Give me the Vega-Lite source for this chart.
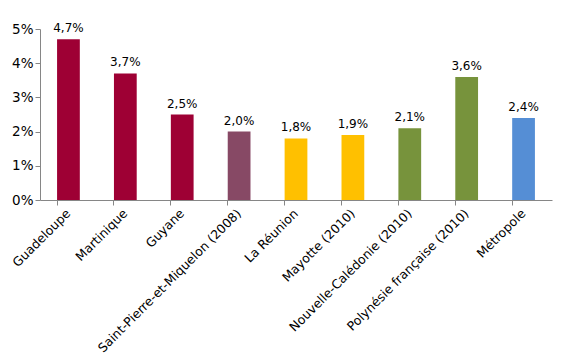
{
  "$schema": "https://vega.github.io/schema/vega-lite/v6.json",
  "width": 512,
  "height": 171,
  "autosize": "none",
  "padding": {"left": 40, "top": 29, "right": 15, "bottom": 160},
  "config": {
    "locale": {"number": {"decimal": ",", "thousands": " ", "grouping": [3], "currency": ["", " €"]}},
    "view": {"stroke": null},
    "font": "DejaVu Sans"
  },
  "data": {
    "values": [
      {"territoire": "Guadeloupe", "taux": 0.047, "groupe": "Antilles-Guyane"},
      {"territoire": "Martinique", "taux": 0.037, "groupe": "Antilles-Guyane"},
      {"territoire": "Guyane", "taux": 0.025, "groupe": "Antilles-Guyane"},
      {"territoire": "Saint-Pierre-et-Miquelon (2008)", "taux": 0.020, "groupe": "SPM"},
      {"territoire": "La Réunion", "taux": 0.018, "groupe": "Océan Indien"},
      {"territoire": "Mayotte (2010)", "taux": 0.019, "groupe": "Océan Indien"},
      {"territoire": "Nouvelle-Calédonie (2010)", "taux": 0.021, "groupe": "Pacifique"},
      {"territoire": "Polynésie française (2010)", "taux": 0.036, "groupe": "Pacifique"},
      {"territoire": "Métropole", "taux": 0.024, "groupe": "Métropole"}
    ]
  },
  "encoding": {
    "x": {
      "field": "territoire",
      "type": "nominal",
      "sort": null,
      "title": null,
      "scale": {"paddingInner": 0.6, "paddingOuter": 0.3},
      "axis": {
        "labelAngle": -45,
        "labelAlign": "right",
        "labelBaseline": "middle",
        "labelFontSize": 12.5,
        "labelColor": "#000000",
        "labelPadding": 6,
        "labelLimit": 300,
        "bandPosition": 0,
        "tickSize": 5,
        "tickColor": "#868686",
        "domainColor": "#868686"
      }
    },
    "y": {
      "field": "taux",
      "type": "quantitative",
      "title": null,
      "scale": {"domain": [0, 0.05], "nice": false},
      "axis": {
        "values": [0, 0.01, 0.02, 0.03, 0.04, 0.05],
        "format": ".0%",
        "grid": false,
        "labelFontSize": 13.5,
        "labelColor": "#000000",
        "tickSize": 5,
        "tickColor": "#868686",
        "domainColor": "#868686",
        "labelPadding": 2
      }
    }
  },
  "layer": [
    {
      "mark": {"type": "bar"},
      "encoding": {
        "color": {
          "field": "groupe",
          "type": "nominal",
          "legend": null,
          "scale": {
            "domain": ["Antilles-Guyane", "SPM", "Océan Indien", "Pacifique", "Métropole"],
            "range": ["#9E0034", "#874965", "#FFC000", "#77933C", "#558ED5"]
          }
        }
      }
    },
    {
      "mark": {"type": "text", "dy": -11, "fontSize": 12, "color": "#000000"},
      "encoding": {
        "text": {"field": "taux", "type": "quantitative", "format": ".1%"}
      }
    }
  ]
}
